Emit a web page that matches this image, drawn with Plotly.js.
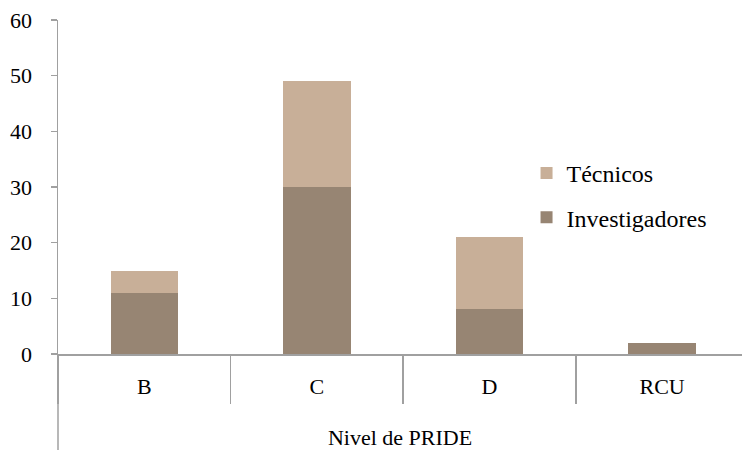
<!DOCTYPE html>
<html>
<head>
<meta charset="utf-8">
<script src="https://cdn.plot.ly/plotly-3.0.1.min.js"></script>
<style>html,body{margin:0;padding:0;overflow:hidden;background:#fff}</style>
</head>
<body>
<div id="chart" style="width:742px;height:450px"></div>
<script>
const categories = ['B', 'C', 'D', 'RCU'];
const investigadores = [11, 30, 8, 2];
const tecnicos = [4, 19, 13, 0];
const seriesNames = ['Investigadores', 'Técnicos'];
const yTicks = [0, 10, 20, 30, 40, 50, 60];
const xTitle = 'Nivel de PRIDE';

const FONT = '"Liberation Serif", "DejaVu Serif", serif';
const AXIS = '#a0a0a0';

const data = [
  {type: 'bar', name: seriesNames[0], x: categories, y: investigadores,
   marker: {color: '#978573'}, width: 0.39, legendgroup: 'a', legendrank: 2},
  {type: 'bar', name: seriesNames[1], x: categories, y: tecnicos,
   marker: {color: '#c8af98'}, width: 0.39, legendgroup: 'b', legendrank: 1}
];

const layout = {
  width: 742, height: 450,
  margin: {l: 58, r: 0, t: 20, b: 96},
  barmode: 'stack',
  paper_bgcolor: '#fff', plot_bgcolor: '#fff',
  font: {family: FONT, size: 22, color: '#000'},
  showlegend: true,
  legend: {x: 0.685, y: 0.608, xanchor: 'left', yanchor: 'top',
           traceorder: 'grouped', tracegroupgap: 10,
           font: {family: FONT, size: 24, color: '#000'}, bgcolor: 'rgba(0,0,0,0)'},
  xaxis: {
    type: 'category', range: [-0.5, 3.463],
    tickson: 'boundaries', ticks: 'outside', ticklen: 48, tickwidth: 1.5, tickcolor: AXIS,
    showline: true, linecolor: AXIS, linewidth: 1.5,
    showgrid: false, zeroline: false,
    ticklabelstandoff: 12,
    tickfont: {family: FONT, size: 22, color: '#000'},
    title: {text: xTitle, font: {family: FONT, size: 22, color: '#000'}, standoff: 31}
  },
  yaxis: {
    range: [0, 60], tickvals: yTicks,
    ticks: 'outside', ticklen: 6, tickwidth: 1.5, tickcolor: AXIS,
    showline: true, linecolor: AXIS, linewidth: 1.5,
    showgrid: false, zeroline: false,
    ticklabelstandoff: 14,
    tickfont: {family: FONT, size: 22, color: '#000'}
  },
  shapes: [
    {type: 'line', xref: 'paper', yref: 'paper', x0: 0, x1: 0, y0: -0.3, y1: 0,
     line: {color: AXIS, width: 1.5}}
  ]
};

Plotly.newPlot('chart', data, layout, {staticPlot: true, displayModeBar: false});
</script>
</body>
</html>
